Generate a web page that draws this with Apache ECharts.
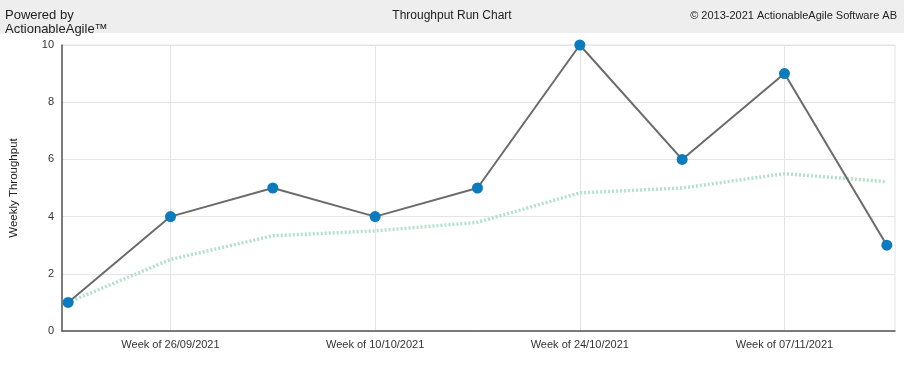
<!DOCTYPE html>
<html><head><meta charset="utf-8">
<script src="https://cdn.jsdelivr.net/npm/echarts@6/dist/echarts.min.js"></script>
<style>html,body{margin:0;padding:0;background:#fff}#c{width:904px;height:372px}</style>
</head><body><div id="c"></div>
<script>
var weeks = ["19/09/2021","26/09/2021","03/10/2021","10/10/2021","17/10/2021","24/10/2021","31/10/2021","07/11/2021","14/11/2021"];
var throughput = [1, 4, 5, 4, 5, 10, 6, 9, 3];
var runningAverage = [1, 2.5, 3.33, 3.5, 3.8, 4.83, 5, 5.5, 5.22];
var labelledWeeks = [1, 3, 5, 7];
var yTicks = [0, 2, 4, 6, 8, 10];

var font = "'Liberation Sans', Arial, sans-serif";
function pairs(arr){ return arr.map(function(v,i){ return [i, v]; }); }

var chart = echarts.init(document.getElementById('c'), null, {renderer:'canvas'});
chart.setOption({
  animation: false,
  backgroundColor: '#fff',
  textStyle: {fontFamily: font},
  graphic: [
    {type:'rect', left:0, top:0, shape:{width:904, height:33}, style:{fill:'#eeeeee'}, z:-1},
    {type:'text', left:5, top:9, style:{text:'Powered by', font:'13px '+font, fill:'#222'}},
    {type:'text', left:5, top:23, style:{text:'ActionableAgile™', font:'13px '+font, fill:'#222'}},
    {type:'text', left:'center', top:10, style:{text:'Throughput Run Chart', font:'12px '+font, fill:'#222'}},
    {type:'text', right:7, top:10, style:{text:'© 2013-2021 ActionableAgile Software AB', font:'11px '+font, fill:'#222'}}
  ],
  grid: {left:62, right:9, top:45, bottom:41, show:true, borderColor:'#e4e4e4', borderWidth:1},
  xAxis: {
    type:'value', min:-0.06, max:8.08,
    axisLine:{show:true, onZero:false, lineStyle:{color:'#555', width:1.5}},
    axisTick:{show:false, customValues: labelledWeeks},
    axisLabel:{customValues: labelledWeeks, color:'#333', fontSize:11, margin:8,
      formatter:function(v){ return 'Week of ' + weeks[Math.round(v)]; }},
    splitLine:{show:true, lineStyle:{color:'#e4e4e4', width:1}}
  },
  yAxis: {
    type:'value', min:0, max:10, interval:2,
    name:'Weekly Throughput', nameLocation:'middle', nameGap:42, nameRotate:90,
    nameTextStyle:{color:'#222', fontSize:11.5, fontFamily:font},
    axisLine:{show:true, onZero:false, lineStyle:{color:'#555', width:1.5}},
    axisTick:{show:false},
    axisLabel:{color:'#333', fontSize:11, margin:8, formatter:function(v){ return yTicks.indexOf(v)>=0 ? String(v) : ''; }},
    splitLine:{show:true, lineStyle:{color:'#e4e4e4', width:1}}
  },
  series: [
    {type:'line', data: pairs(runningAverage), symbol:'none', z:2,
      lineStyle:{color:'#b3e0cc', width:3.5, type:[2,2]}},
    {type:'line', data: pairs(throughput), symbol:'circle', symbolSize:11, z:3,
      lineStyle:{color:'#6b6b6b', width:2},
      itemStyle:{color:'#0a7bbd', borderWidth:0}}
  ]
});
</script></body></html>
